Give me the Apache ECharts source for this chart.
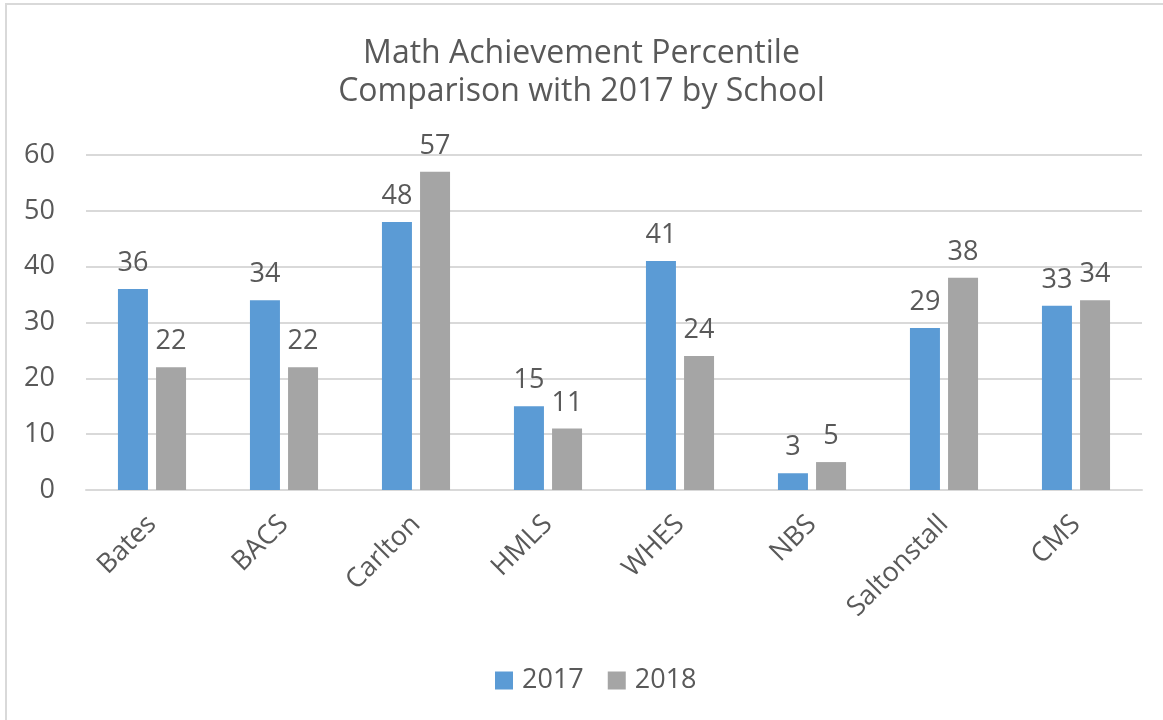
<!DOCTYPE html>
<html>
<head>
<meta charset="utf-8">
<script src="https://cdn.jsdelivr.net/npm/echarts@6/dist/echarts.min.js"></script>
<style>
  html, body { margin: 0; padding: 0; background: #fff; }
  #main { width: 1163px; height: 720px; }
</style>
</head>
<body>
<div id="main"></div>
<script>
// school categories and percentiles per year
var schools = ['Bates', 'BACS', 'Carlton', 'HMLS', 'WHES', 'NBS', 'Saltonstall', 'CMS'];
var pct2017 = [36, 34, 48, 15, 41, 3, 29, 33];
var pct2018 = [22, 22, 57, 11, 24, 5, 38, 34];

var FONT = '"Open Sans", sans-serif';
var GREY = '#595959';

var chart = echarts.init(document.getElementById('main'), null, { renderer: 'canvas' });

var labelStyle = {
  show: true,
  position: 'top',
  distance: 12,
  color: GREY,
  fontFamily: FONT,
  fontSize: 27
};

var option = {
  backgroundColor: '#fff',
  animation: false,
  graphic: [{
    type: 'rect',
    shape: { x: 6, y: 4, width: 1300, height: 900 },
    style: { fill: 'none', stroke: '#d9d9d9', lineWidth: 2 },
    silent: true
  }],
  title: {
    text: 'Math Achievement Percentile\nComparison with 2017 by School',
    left: 'center',
    top: 30,
    textStyle: {
      color: GREY,
      fontFamily: FONT,
      fontWeight: 'normal',
      fontSize: 32,
      lineHeight: 38
    }
  },
  legend: {
    data: ['2017', '2018'],
    left: 490,
    top: 662,
    itemWidth: 18,
    itemHeight: 18,
    itemGap: 24,
    icon: 'rect',
    textStyle: {
      color: GREY,
      fontFamily: FONT,
      fontSize: 27,
      padding: [0, 0, 0, 4]
    }
  },
  grid: {
    left: 86,
    right: 21,
    top: 155,
    bottom: 230,
    containLabel: false
  },
  xAxis: {
    type: 'category',
    data: schools,
    axisLine: { lineStyle: { color: '#d9d9d9', width: 2 } },
    axisTick: { show: false },
    axisLabel: {
      rotate: 45,
      margin: 30,
      color: GREY,
      fontFamily: FONT,
      fontSize: 27,
      interval: 0
    }
  },
  yAxis: {
    type: 'value',
    min: 0,
    max: 60,
    interval: 10,
    axisLine: { show: false },
    axisTick: { show: false },
    splitLine: { lineStyle: { color: '#d9d9d9', width: 2 } },
    axisLabel: {
      margin: 31,
      color: GREY,
      fontFamily: FONT,
      fontSize: 27
    }
  },
  series: [{
    name: '2017',
    type: 'bar',
    data: pct2017,
    barWidth: 30,
    barGap: '27%',
    itemStyle: { color: '#5b9bd5' },
    label: labelStyle
  }, {
    name: '2018',
    type: 'bar',
    data: pct2018,
    barWidth: 30,
    itemStyle: { color: '#a5a5a5' },
    label: labelStyle
  }]
};

chart.setOption(option);
</script>
</body>
</html>
